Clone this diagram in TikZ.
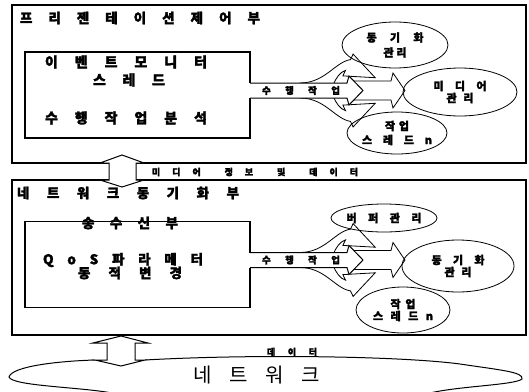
\documentclass[tikz,border=0pt]{standalone}
\usepackage{fontspec}
\setmainfont{Noto Sans CJK KR}[BoldFeatures={FakeBold=2}]
\usetikzlibrary{shapes.geometric}
\newcommand\spreadtxt[2]{\makebox[#1][s]{#2}}
\newcommand\fatgroup{%
  % upper curved arrow
  \draw[fat] (300,83) .. controls (325,83) and (335,62) .. (350.5,59.6) -- (353.1,54.1) -- (375.2,77.7) -- (342.9,75.9) -- (345.5,70.4) .. controls (340,72) and (336,78) .. (333,85) -- (300,85) -- cycle;
  % lower curved arrow
  \draw[fat] (300,98) .. controls (325,98) and (335,119) .. (350.5,121.4) -- (353.1,126.9) -- (375.2,103.3) -- (342.9,105.1) -- (345.5,110.6) .. controls (340,109) and (336,103) .. (333,96) -- (300,96) -- cycle;
  % second straight arrow
  \draw[fat] (352,81) -- (391,81) -- (393,73) -- (405,90.5) -- (393,108) -- (391,100) -- (352,100) -- cycle;
  % channel with first head
  \fill[white] (250,83) -- (347,83) -- (349,76) -- (363,90.5) -- (349,105) -- (347,98) -- (250,98) -- cycle;
  \draw[chan] (250,83) -- (347,83) -- (349,76) -- (363,90.5) -- (349,105) -- (347,98) -- (250,98);
  % inner box
  \draw[inner] (250,83) -- (250,52) -- (25,52) -- (25,138) -- (250,138) -- (250,98);
}
\begin{document}
\begin{tikzpicture}[x=1pt,y=-1pt,
  outer/.style={line width=1.6pt},
  inner/.style={line width=1.3pt},
  chan/.style={line width=1pt, line join=miter},
  ell/.style={draw, ellipse, line width=0.8pt, inner sep=0pt, align=center,
    font=\fontsize{11}{13}\selectfont\bfseries},
  fat/.style={draw, fill=white, line width=0.8pt, line join=miter},
  lbl/.style={inner sep=0pt, font=\fontsize{13.5}{15}\selectfont\bfseries},
  small/.style={inner sep=0pt, font=\fontsize{9.5}{11}\selectfont\bfseries}
]
\useasboundingbox (0,0) rectangle (529,391);
\fill[white] (0,0) rectangle (529,391);

% outer boxes
\draw[outer] (12,5) rectangle (526,163);
\draw[outer] (12,180) rectangle (526,335);

% fat arrow groups
\fatgroup
\begin{scope}[shift={(0,169.5)}]
\fatgroup
\end{scope}

% double arrows
\draw[fat, line width=1pt] (100,163) -- (122,155) -- (144,163) -- (136,163) -- (136,180) -- (144,180) -- (122,187) -- (100,180) -- (109,180) -- (109,163) -- cycle;
\draw[line width=1pt] (95,360) .. controls (60,361) and (12,366) .. (9,377) .. controls (12,386) and (80,387) .. (112,393);
\draw[line width=1pt] (145,360) .. controls (250,354) and (400,356) .. (460,364) .. controls (500,370) and (524,372) .. (522,379) .. controls (515,385) and (460,386) .. (430,393);
\draw[fat, line width=1pt] (93,343) -- (121,336) -- (148,343) -- (135,343) -- (135,360) -- (145,360) -- (121,366) -- (95,360) -- (107,360) -- (107,343) -- cycle;

% ellipses upper
\node[ell, minimum width=106pt, minimum height=46pt] (e1) at (395,45)
  {\spreadtxt{57pt}{동 기 화}\\[2pt]\spreadtxt{23pt}{관 리}};
\node[ell, minimum width=114pt, minimum height=48pt] (e2) at (460,92)
  {\spreadtxt{53pt}{미 디 어}\\[-1pt]\spreadtxt{27pt}{관 리}};
\node[ell, minimum width=100pt, minimum height=42pt] (e3) at (397,133)
  {\spreadtxt{24pt}{작 업}\\[1pt]\spreadtxt{70pt}{스 레 드 n}};
% ellipses lower
\node[ell, minimum width=102pt, minimum height=28pt] (f1) at (384,218)
  {\spreadtxt{75pt}{버 퍼 관 리}};
\node[ell, minimum width=112pt, minimum height=52pt] (f2) at (458,266)
  {\spreadtxt{53pt}{동 기 화}\\[-1pt]\spreadtxt{27pt}{관 리}};
\node[ell, minimum width=94pt, minimum height=46pt] (f3) at (403,310)
  {\spreadtxt{25pt}{작 업}\\[-1pt]\spreadtxt{60pt}{스 레 드 n}};

% texts
\node[lbl] (t1) at (140,18) {\spreadtxt{240pt}{프 리 젠 테 이 션 제 어 부}};
\node[lbl, font=\fontsize{14}{15}\selectfont\bfseries] (t2) at (126,62) {\spreadtxt{162pt}{이 벤 트 모 니 터}};
\node[lbl, font=\fontsize{14}{15}\selectfont\bfseries] (t3) at (129,80) {\spreadtxt{72pt}{스 레 드}};
\node[lbl, font=\fontsize{14}{15}\selectfont\bfseries] (t4) at (126,118) {\spreadtxt{162pt}{수 행 작 업 분 석}};
\node[small] (c1) at (301,90.5) {\spreadtxt{78pt}{수 행 작 업}};
\node[small, font=\fontsize{9}{10}\selectfont\bfseries] (s1) at (255,172) {\spreadtxt{206pt}{미 디 어~~정 보~~및~~데 이 터}};
\node[lbl] (t6) at (128,193) {\spreadtxt{222pt}{네 트 워 크 동 기 화 부}};
\node[lbl] (t7) at (130,223) {\spreadtxt{96pt}{송 수 신 부}};
\node[lbl] (t8) at (123,260) {\spreadtxt{160pt}{Q o S 파 라 메 터}};
\node[lbl] (t9) at (130,273) {\spreadtxt{104pt}{동 적 변 경}};
\node[small] (c2) at (301,260) {\spreadtxt{78pt}{수 행 작 업}};
\node[small, font=\fontsize{9}{10}\selectfont\bfseries] (d1) at (292,352) {\spreadtxt{50pt}{데 이 터}};
\node[inner sep=0pt, font=\fontsize{20}{22}\selectfont] (n1) at (256.5,375) {\spreadtxt{127pt}{네 트 워 크}};
\end{tikzpicture}
\end{document}
